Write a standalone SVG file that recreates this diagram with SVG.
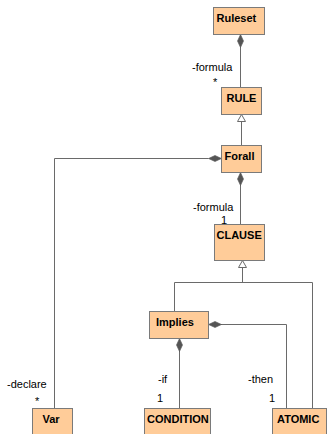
<svg xmlns="http://www.w3.org/2000/svg" width="327" height="434" viewBox="0 0 327 434">
  <style>
    .box { fill: #FFCC99; stroke: #7a7a7a; stroke-width: 1; }
    .name { font-family: "Liberation Sans", Arial, sans-serif; font-size: 11px; font-weight: bold; fill: #000; }
    .lbl { font-family: "Liberation Sans", Arial, sans-serif; font-size: 11px; fill: #000; }
    .edge { fill: none; stroke: #6a6a6a; stroke-width: 1; }
    .diamond { fill: #555; stroke: #555; stroke-width: 0.6; }
    .tri { fill: #fff; stroke: #6a6a6a; stroke-width: 1; }
  </style>
  <rect width="327" height="434" fill="#fff"/>

  <!-- associations, compositions and generalizations -->
  <g id="connectors">
    <!-- Ruleset composes RULE -->
    <line class="edge" x1="240.5" y1="47" x2="240.5" y2="87.5"/>
    <polygon class="diamond" points="240.5,34.5 243.5,41 240.5,47.5 237.5,41"/>
    <!-- Forall generalizes to RULE -->
    <line class="edge" x1="241.5" y1="121.5" x2="241.5" y2="145.5"/>
    <polygon class="tri" points="241.5,114.5 245.5,121.5 237.5,121.5"/>
    <!-- Forall composes Var -->
    <polyline class="edge" points="208.5,158.5 54.5,158.5 54.5,408.5"/>
    <polygon class="diamond" points="221.5,158.5 215,161.5 208.5,158.5 215,155.5"/>
    <!-- Forall composes CLAUSE -->
    <line class="edge" x1="240.5" y1="185" x2="240.5" y2="224.5"/>
    <polygon class="diamond" points="240.5,172.5 243.5,179 240.5,185.5 237.5,179"/>
    <!-- Implies and ATOMIC generalize to CLAUSE -->
    <polyline class="edge" points="174.5,311 174.5,282.5 312.5,282.5 312.5,408.5"/>
    <line class="edge" x1="242.5" y1="267.5" x2="242.5" y2="282.5"/>
    <polygon class="tri" points="242.5,260.5 246.5,267.5 238.5,267.5"/>
    <!-- Implies composes ATOMIC -->
    <polyline class="edge" points="221,324.5 286.5,324.5 286.5,408.5"/>
    <polygon class="diamond" points="208.5,324.5 215,321.5 221.5,324.5 215,327.5"/>
    <!-- Implies composes CONDITION -->
    <line class="edge" x1="179.5" y1="351" x2="179.5" y2="408.5"/>
    <polygon class="diamond" points="179.5,338.5 182.5,345 179.5,351.5 176.5,345"/>

    <!-- role names and multiplicities -->
    <text class="lbl" x="192" y="71">-formula</text>
    <text class="lbl" x="213" y="86">*</text>
    <text class="lbl" x="193" y="211">-formula</text>
    <text class="lbl" x="221" y="224">1</text>
    <text class="lbl" x="7" y="388">-declare</text>
    <text class="lbl" x="35" y="405">*</text>
    <text class="lbl" x="158" y="383">-if</text>
    <text class="lbl" x="157" y="402">1</text>
    <text class="lbl" x="248" y="383">-then</text>
    <text class="lbl" x="269" y="402">1</text>
  </g>

  <g id="Ruleset">
    <rect class="box" x="213.5" y="7.5" width="51" height="27"/>
    <text class="name" x="216.5" y="22">Ruleset</text>
  </g>
  <g id="RULE">
    <rect class="box" x="221.5" y="87.5" width="40" height="27"/>
    <text class="name" x="226.5" y="102">RULE</text>
  </g>
  <g id="Forall">
    <rect class="box" x="221.5" y="145.5" width="40" height="27"/>
    <text class="name" x="224.5" y="160">Forall</text>
  </g>
  <g id="CLAUSE">
    <rect class="box" x="214.5" y="224.5" width="50" height="36"/>
    <text class="name" x="216.5" y="239">CLAUSE</text>
  </g>
  <g id="Implies">
    <rect class="box" x="149.5" y="311.5" width="59" height="27"/>
    <text class="name" x="156" y="326">Implies</text>
  </g>
  <g id="Var">
    <rect class="box" x="32.5" y="408.5" width="40" height="40"/>
    <text class="name" x="42.5" y="422.5">Var</text>
  </g>
  <g id="CONDITION">
    <rect class="box" x="144.5" y="408.5" width="66" height="40"/>
    <text class="name" x="147" y="422.5">CONDITION</text>
  </g>
  <g id="ATOMIC">
    <rect class="box" x="272.5" y="408.5" width="54" height="40"/>
    <text class="name" x="277" y="422.5">ATOMIC</text>
  </g>
</svg>
